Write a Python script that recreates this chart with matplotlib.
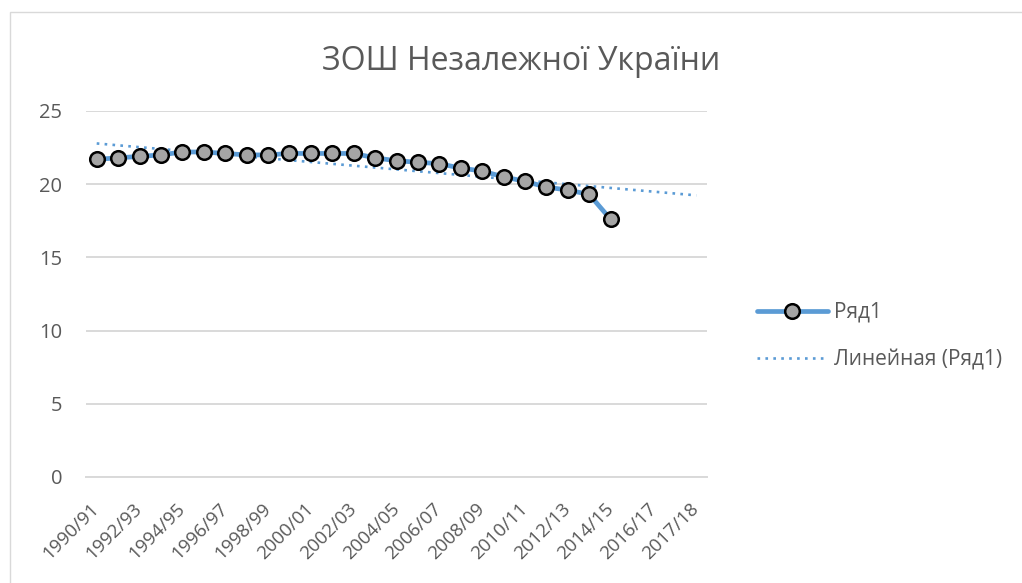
import numpy as np
import matplotlib
matplotlib.use('Agg')
import matplotlib.pyplot as plt
from matplotlib.patches import Rectangle
from matplotlib.transforms import ScaledTranslation

# data
school_years = ['1990/91', '1991/92', '1992/93', '1993/94', '1994/95', '1995/96',
                '1996/97', '1997/98', '1998/99', '1999/00', '2000/01', '2001/02',
                '2002/03', '2003/04', '2004/05', '2005/06', '2006/07', '2007/08',
                '2008/09', '2009/10', '2010/11', '2011/12', '2012/13', '2013/14',
                '2014/15']
values = [21.7, 21.8, 21.9, 22.0, 22.2, 22.2, 22.1, 22.0, 22.0, 22.1, 22.1, 22.1,
          22.1, 21.8, 21.6, 21.5, 21.4, 21.1, 20.9, 20.5, 20.2, 19.8, 19.6, 19.3,
          17.6]
# category axis labels as shown (every second category, trend forecast extends 4 periods)
tick_labels = ['1990/91', '1992/93', '1994/95', '1996/97', '1998/99', '2000/01',
               '2002/03', '2004/05', '2006/07', '2008/09', '2010/11', '2012/13',
               '2014/15', '2016/17', '2017/18']
forecast_periods = 4
y_ticks = [0, 5, 10, 15, 20, 25]

title = 'ЗОШ Незалежної України'
series_name = 'Ряд1'
trend_name = 'Линейная (Ряд1)'

BLUE = '#5B9BD5'
TEXT = '#595959'
GRID = '#D9D9D9'

plt.rcParams['font.family'] = ['Open Sans', 'DejaVu Sans']

W, H = 1022, 583
fig = plt.figure(figsize=(W / 100, H / 100), dpi=100)

# chart frame (cut by the screenshot on the right and bottom)
fig.patches.append(Rectangle((10 / W, -0.2), 1.2, 1.2 - 12 / H,
                             transform=fig.transFigure, fill=False,
                             edgecolor=GRID, linewidth=1.0))

ax = fig.add_axes([86 / W, 1 - 477 / H, (707 - 86) / W, (477 - 111) / H])

x = np.arange(len(values))
n_cat = len(values) + forecast_periods

# linear trend, as Excel computes it, extended forward
coef = np.polyfit(x, values, 1)
x_trend = np.arange(n_cat)
ax.plot(x_trend, np.polyval(coef, x_trend), color=BLUE, linewidth=1.9,
        linestyle=(0, (1, 2)), label=trend_name, zorder=2)

ax.plot(x, values, color=BLUE, linewidth=3.4, marker='o', markersize=10.5,
        markerfacecolor='#A5A5A5', markeredgecolor='black', markeredgewidth=1.8,
        label=series_name, zorder=3, solid_capstyle='round')

ax.set_xlim(-0.5, n_cat - 0.5)
ax.set_ylim(0, 25)
ax.set_yticks(y_ticks)
ax.set_xticks(np.arange(0, n_cat, 2))
ax.set_xticklabels(tick_labels, rotation=45, ha='right', va='center',
                   rotation_mode='anchor', fontsize=13.5)
shift = ScaledTranslation(9 / 100, 0, fig.dpi_scale_trans)
for lab in ax.get_xticklabels():
    lab.set_transform(lab.get_transform() + shift)

ax.yaxis.grid(True, color=GRID, linewidth=1.4)
ax.set_axisbelow(True)
for side in ['top', 'right', 'left']:
    ax.spines[side].set_visible(False)
ax.spines['bottom'].set_color(GRID)
ax.spines['bottom'].set_linewidth(1.4)
ax.tick_params(axis='both', length=0, labelcolor=TEXT)
ax.tick_params(axis='y', pad=17, labelsize=14.5)
ax.tick_params(axis='x', pad=21)

fig.text(521 / W, 1 - 61 / H, title, ha='center', va='center',
         fontsize=23, color=TEXT)

handles, labels = ax.get_legend_handles_labels()
leg = fig.legend(handles[::-1], labels[::-1], loc='center left',
                 bbox_to_anchor=(757 / W, 1 - 336 / H), frameon=False,
                 fontsize=15, labelcolor=TEXT, handlelength=3.4,
                 handletextpad=0.3, labelspacing=1.25, borderpad=0,
                 borderaxespad=0)

fig.savefig('out.png', dpi=100)
